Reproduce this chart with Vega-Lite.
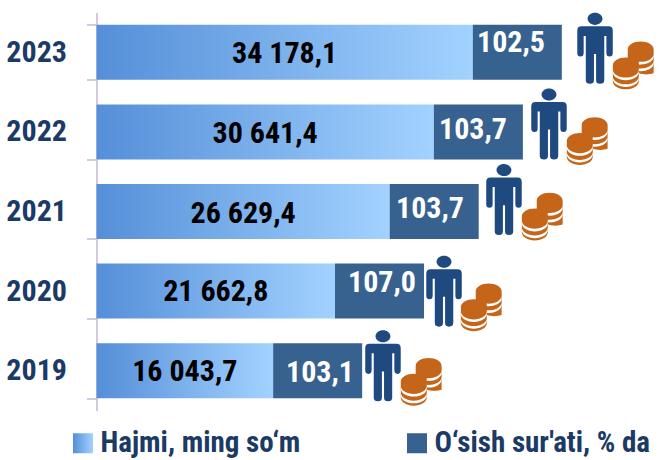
{"$schema":"https://vega.github.io/schema/vega-lite/v6.json","width":562,"height":398,"autosize":"none","padding":{"left":96.5,"top":12.5,"right":0,"bottom":49.5},"background":"white","config":{"view":{"stroke":null}},
"datasets":{"bars":[
{"year":"2023","series":"Hajmi, ming so‘m","length":34178.1},{"year":"2023","series":"O‘sish sur'ati, % da","length":8085},
{"year":"2022","series":"Hajmi, ming so‘m","length":30641.4},{"year":"2022","series":"O‘sish sur'ati, % da","length":8085},
{"year":"2021","series":"Hajmi, ming so‘m","length":26629.4},{"year":"2021","series":"O‘sish sur'ati, % da","length":8085},
{"year":"2020","series":"Hajmi, ming so‘m","length":21662.8},{"year":"2020","series":"O‘sish sur'ati, % da","length":8085},
{"year":"2019","series":"Hajmi, ming so‘m","length":16043.7},{"year":"2019","series":"O‘sish sur'ati, % da","length":8085}],
"labels":[
{"year":"2023","kind":"h","label":"34 178,1","at":17089,"dy":2},{"year":"2022","kind":"h","label":"30 641,4","at":15320,"dy":2},{"year":"2021","kind":"h","label":"26 629,4","at":13315,"dy":2},{"year":"2020","kind":"h","label":"21 662,8","at":10831,"dy":1},{"year":"2019","kind":"h","label":"16 043,7","at":8022,"dy":1},
{"year":"2023","kind":"g","label":"102,5","at":37649,"dy":-9},{"year":"2022","kind":"g","label":"103,7","at":34197,"dy":-2},{"year":"2021","kind":"g","label":"103,7","at":30292,"dy":-3},{"year":"2020","kind":"g","label":"107,0","at":25932,"dy":-8},{"year":"2019","kind":"g","label":"103,1","at":20300,"dy":2}],
"icons":[
{"year":"2023","icon":"person","at":45280,"dy":-4},{"year":"2022","icon":"person","at":41100,"dy":-8},{"year":"2021","icon":"person","at":37010,"dy":-12},{"year":"2020","icon":"person","at":31565,"dy":0},{"year":"2019","icon":"person","at":26020,"dy":-5},
{"year":"2023","icon":"coins","at":48730,"dy":13},{"year":"2022","icon":"coins","at":44550,"dy":9},{"year":"2021","icon":"coins","at":40465,"dy":5},{"year":"2020","icon":"coins","at":34925,"dy":16},{"year":"2019","icon":"coins","at":29470,"dy":11}]},
"layer":[
{"data":{"name":"bars"},"transform":[{"stack":"length","groupby":["year"],"sort":[{"field":"series"}],"as":["x0","x1"]},{"filter":"datum.x0===0"}],"mark":{"type":"bar","size":55,"color":{"gradient":"linear","x1":0,"y1":0,"x2":1,"y2":0,"stops":[{"offset":0,"color":"#558FD8"},{"offset":1,"color":"#A2D2FF"}]}},"encoding":{
"y":{"field":"year","type":"nominal","sort":["2023","2022","2021","2020","2019"],"scale":{"paddingInner":0.31,"paddingOuter":0.155},"axis":{"title":null,"domainColor":"#D2CADF","domainWidth":2,"tickColor":"#D2CADF","tickWidth":2,"tickSize":10,"tickBand":"extent","labelFont":"Roboto Condensed","labelFontWeight":"bold","labelFontSize":30,"labelColor":"#1B3A66","labelPadding":20}},
"x":{"field":"x0","type":"quantitative","scale":{"domain":[0,51045],"nice":false},"axis":null},"x2":{"field":"x1"}}},
{"data":{"name":"bars"},"transform":[{"stack":"length","groupby":["year"],"sort":[{"field":"series"}],"as":["x0","x1"]},{"filter":"datum.x0>0"}],"mark":{"type":"bar","size":55,"fill":"#37618F","strokeWidth":0},"encoding":{
"y":{"field":"year","type":"nominal","sort":["2023","2022","2021","2020","2019"]},
"x":{"field":"x0","type":"quantitative"},"x2":{"field":"x1"},
"stroke":{"field":"series","type":"nominal","scale":{"domain":["Hajmi, ming so‘m","O‘sish sur'ati, % da"],"range":["#6FA8E8","#37618F"]},"legend":{"title":null,"orient":"none","legendX":-28,"legendY":416,"direction":"horizontal","columns":2,"columnPadding":102,"symbolType":"square","symbolSize":400,"symbolStrokeWidth":0,"labelFont":"Roboto Condensed","labelFontWeight":"bold","labelFontSize":29,"labelColor":"#1B3A66","labelLimit":300,"labelOffset":3,"encoding":{"symbols":{"fill":{"value":{"expr":"datum.value==='Hajmi, ming so‘m' ? {gradient:'linear',x1:0,y1:0,x2:1,y2:0,stops:[{offset:0,color:'#558FD8'},{offset:1,color:'#A2D2FF'}]} : '#37618F'"}}}}}}}},
{"data":{"name":"labels"},"transform":[{"filter":"datum.kind==='h'"}],"mark":{"type":"text","font":"Roboto Condensed","fontWeight":"bold","fontSize":30,"color":"black"},"encoding":{"y":{"field":"year","type":"nominal","sort":["2023","2022","2021","2020","2019"]},"yOffset":{"field":"dy","type":"quantitative","scale":{"domain":[-50,50],"range":[-22.5,77.5]}},"x":{"field":"at","type":"quantitative"},"text":{"field":"label"}}},
{"data":{"name":"labels"},"transform":[{"filter":"datum.kind==='g'"}],"mark":{"type":"text","font":"Roboto Condensed","fontWeight":"bold","fontSize":30,"color":"white"},"encoding":{"y":{"field":"year","type":"nominal","sort":["2023","2022","2021","2020","2019"]},"yOffset":{"field":"dy","type":"quantitative"},"x":{"field":"at","type":"quantitative"},"text":{"field":"label"}}},
{"data":{"name":"icons"},"transform":[{"filter":"datum.icon==='person'"}],"mark":{"type":"point","filled":true,"opacity":1,"size":5041,"color":"#1F4A80","shape":"M-0.38,-0.62 L0.38,-0.62 Q0.5,-0.62 0.5,-0.5 L0.5,0.13 Q0.5,0.23 0.41,0.23 Q0.32,0.23 0.32,0.13 L0.32,-0.35 L0.26,-0.35 L0.26,0.9 Q0.26,1 0.14,1 Q0.03,1 0.03,0.9 L0.03,0.16 L-0.03,0.16 L-0.03,0.9 Q-0.03,1 -0.14,1 Q-0.26,1 -0.26,0.9 L-0.26,-0.35 L-0.32,-0.35 L-0.32,0.13 Q-0.32,0.23 -0.41,0.23 Q-0.5,0.23 -0.5,0.13 L-0.5,-0.5 Q-0.5,-0.62 -0.38,-0.62 Z M-0.21,-0.83 A0.21,0.17 0 1 1 0.21,-0.83 A0.21,0.17 0 1 1 -0.21,-0.83 Z"},"encoding":{"y":{"field":"year","type":"nominal","sort":["2023","2022","2021","2020","2019"]},"yOffset":{"field":"dy","type":"quantitative"},"x":{"field":"at","type":"quantitative"}}},
{"data":{"name":"icons"},"transform":[{"filter":"datum.icon==='coins'"}],"mark":{"type":"point","filled":true,"opacity":1,"size":2304,"color":"#C5651A","shape":"M-0.84,0 L-0.84,0.67 A0.54,0.33 0 0 0 0.24,0.67 L0.24,0 A0.54,0.33 0 0 0 -0.84,0 Z M-0.22,-0.66 L-0.22,-0.2 L0.24,0 L0.24,0.32 A0.54,0.33 0 0 0 0.86,0.32 L0.86,-0.66 A0.54,0.33 0 0 0 -0.22,-0.66 Z"},"encoding":{"y":{"field":"year","type":"nominal","sort":["2023","2022","2021","2020","2019"]},"yOffset":{"field":"dy","type":"quantitative"},"x":{"field":"at","type":"quantitative"}}},
{"data":{"name":"icons"},"transform":[{"filter":"datum.icon==='coins'"}],"mark":{"type":"point","filled":true,"opacity":1,"size":2304,"color":"white","shape":"M-0.84,0.18 A0.54,0.33 0 0 0 0.24,0.18 L0.24,0.29 A0.54,0.33 0 0 1 -0.84,0.29 Z M-0.84,0.46 A0.54,0.33 0 0 0 0.24,0.46 L0.24,0.57 A0.54,0.33 0 0 1 -0.84,0.57 Z M0.24,-0.15 A0.54,0.33 0 0 0 0.86,-0.48 L0.86,-0.37 A0.54,0.33 0 0 1 0.24,-0.04 Z M0.24,0.13 A0.54,0.33 0 0 0 0.86,-0.2 L0.86,-0.09 A0.54,0.33 0 0 1 0.24,0.24 Z"},"encoding":{"y":{"field":"year","type":"nominal","sort":["2023","2022","2021","2020","2019"]},"yOffset":{"field":"dy","type":"quantitative"},"x":{"field":"at","type":"quantitative"}}}
]}
